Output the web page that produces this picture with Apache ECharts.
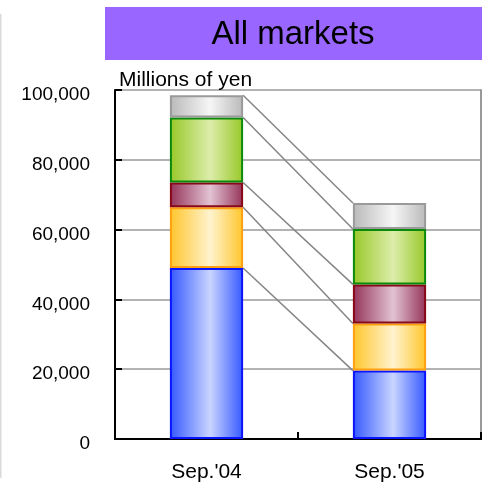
<!DOCTYPE html>
<html>
<head>
<meta charset="utf-8">
<script src="https://cdn.jsdelivr.net/npm/echarts@6/dist/echarts.min.js"></script>
<style>
  html, body { margin: 0; padding: 0; background: #fff; }
  #chart { width: 482px; height: 487px; }
</style>
</head>
<body>
<div id="chart"></div>
<script>
// Periods on the category axis
const categories = ["Sep.'04", "Sep.'05"];

// Stacked segments, bottom to top (millions of yen)
const blueSeg   = [49000, 19600];
const orangeSeg = [17400, 13500];
const maroonSeg = [7100, 11200];
const greenSeg  = [18600, 15900];
const graySeg   = [6400, 7400];

// Value axis ticks
const yTicks = [0, 20000, 40000, 60000, 80000, 100000];

const FONT = '"Liberation Sans", Arial, sans-serif';
const BAR_RATIO = 0.4;

function hGrad(edge, mid) {
  return new echarts.graphic.LinearGradient(0, 0, 1, 0, [
    { offset: 0, color: edge },
    { offset: 0.55, color: mid },
    { offset: 1, color: edge }
  ]);
}

const segments = [
  { name: 'blue',   data: blueSeg,   edge: '#3558ff', mid: '#c9d5ff', border: '#0a14ff' },
  { name: 'orange', data: orangeSeg, edge: '#ffc52a', mid: '#fff3cf', border: '#ffa010' },
  { name: 'maroon', data: maroonSeg, edge: '#953358', mid: '#e2c3d3', border: '#880818' },
  { name: 'green',  data: greenSeg,  edge: '#98c828', mid: '#dcedab', border: '#0a8a0a' },
  { name: 'gray',   data: graySeg,   edge: '#b9b9b9', mid: '#f6f6f6', border: '#9a9a9a' }
];

// Running totals at each segment boundary, used for the connector lines
const boundaries = [];
const run = [0, 0];
segments.forEach(s => {
  run[0] += s.data[0];
  run[1] += s.data[1];
  boundaries.push([0, run[0], run[1]]);
});

const barSeries = segments.map(s => ({
  name: s.name,
  type: 'bar',
  stack: 'total',
  barWidth: (BAR_RATIO * 100) + '%',
  data: s.data,
  z: 3,
  itemStyle: {
    color: hGrad(s.edge, s.mid),
    borderColor: s.border,
    borderWidth: 2
  }
}));

const connectorSeries = {
  type: 'custom',
  z: 2,
  silent: true,
  encode: { x: 0, y: [1, 2] },
  data: boundaries,
  renderItem: function (params, api) {
    const p1 = api.coord([0, api.value(1)]);
    const p2 = api.coord([1, api.value(2)]);
    const half = api.size([1, 0])[0] * BAR_RATIO / 2;
    return {
      type: 'line',
      shape: { x1: p1[0] + half, y1: p1[1], x2: p2[0] - half, y2: p2[1] },
      style: { stroke: '#858585', lineWidth: 1.5 }
    };
  }
};

const chart = echarts.init(document.getElementById('chart'), null, { renderer: 'canvas' });

chart.setOption({
  animation: false,
  backgroundColor: '#fff',
  grid: { left: 115, right: 1, top: 90, bottom: 48, containLabel: false },
  graphic: [
    { type: 'rect', left: 0, top: 14, shape: { width: 1.5, height: 464 }, style: { fill: '#dadada' }, z: 0 },
    { type: 'rect', left: 105, top: 7, shape: { width: 377, height: 53 }, style: { fill: '#9966ff' }, z: 0 },
    {
      type: 'text', x: 293, y: 35, z: 1,
      style: { text: 'All markets', font: '33px ' + FONT, fill: '#000', align: 'center', verticalAlign: 'middle' }
    },
    {
      type: 'text', x: 119, y: 80, z: 1,
      style: { text: 'Millions of yen', font: '21px ' + FONT, fill: '#000', align: 'left', verticalAlign: 'middle' }
    }
  ],
  xAxis: [
    {
      type: 'category',
      data: categories,
      position: 'bottom',
      axisLine: { lineStyle: { color: '#000', width: 2 } },
      axisTick: { show: true, inside: true, length: 7, lineStyle: { color: '#000', width: 2 } },
      axisLabel: { color: '#000', fontFamily: FONT, fontSize: 21, margin: 23 },
      splitLine: { show: false }
    },
    {
      type: 'category',
      data: categories,
      position: 'top',
      axisLine: { lineStyle: { color: '#000', width: 2 } },
      axisTick: { show: false },
      axisLabel: { show: false }
    }
  ],
  yAxis: [
    {
      type: 'value',
      min: yTicks[0],
      max: yTicks[yTicks.length - 1],
      interval: yTicks[1] - yTicks[0],
      axisLine: { show: true, lineStyle: { color: '#000', width: 2 } },
      axisTick: { show: true, inside: true, length: 7, lineStyle: { color: '#000', width: 2 } },
      axisLabel: {
        color: '#000', fontFamily: FONT, fontSize: 19, margin: 25,
        verticalAlign: 'top', lineHeight: 10,
        formatter: v => v.toLocaleString('en-US')
      },
      splitLine: { show: true, lineStyle: { color: '#9a9a9a', width: 1.5 } }
    },
    {
      type: 'value',
      position: 'right',
      min: yTicks[0],
      max: yTicks[yTicks.length - 1],
      interval: yTicks[1] - yTicks[0],
      axisLine: { show: true, lineStyle: { color: '#999', width: 2 } },
      axisTick: { show: false },
      axisLabel: { show: false },
      splitLine: { show: false }
    }
  ],
  series: [connectorSeries].concat(barSeries)
});
</script>
</body>
</html>
